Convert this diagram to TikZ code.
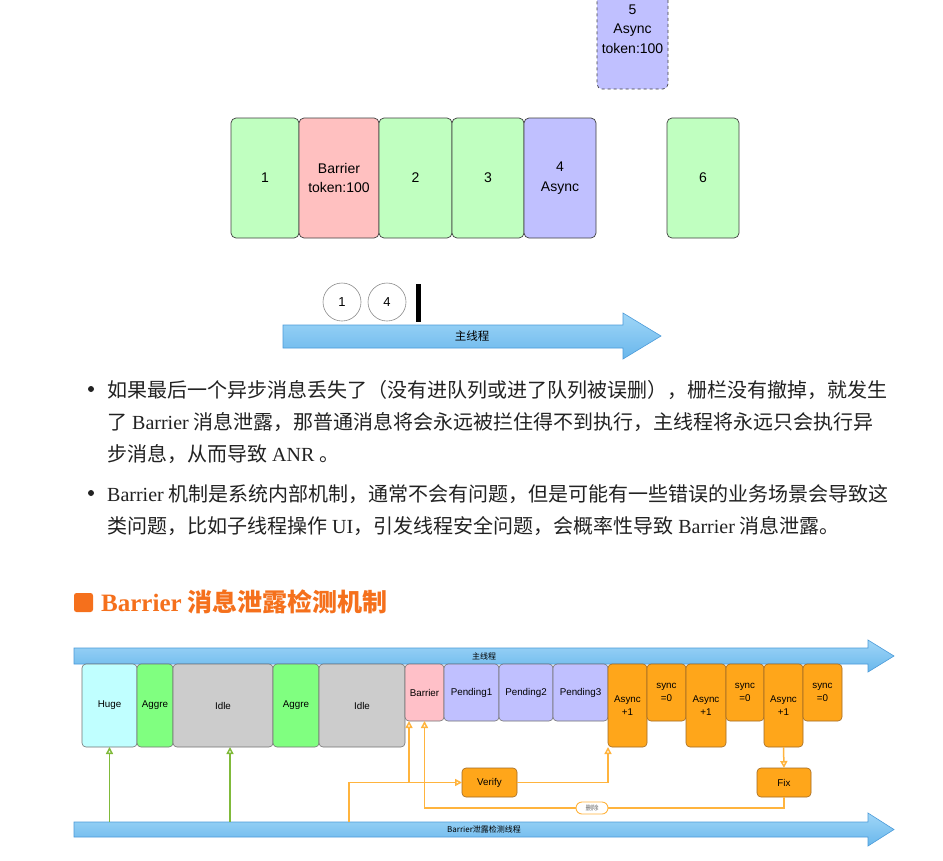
\documentclass[tikz,border=0pt]{standalone}
\usepackage{fontspec}
\setmainfont{Liberation Serif}
\newfontfamily\cjk{Noto Sans CJK SC}
\newfontfamily\dsf{Liberation Sans}
\usetikzlibrary{arrows.meta,positioning}

\definecolor{qgreen}{RGB}{192,255,192}
\definecolor{qpink}{RGB}{255,192,192}
\definecolor{qpinkb}{RGB}{255,192,200}
\definecolor{qblue}{RGB}{192,192,255}
\definecolor{qcyan}{RGB}{192,255,255}
\definecolor{qaggre}{RGB}{128,255,128}
\definecolor{qidle}{RGB}{204,204,204}
\definecolor{qorange}{RGB}{255,166,26}
\definecolor{qorangeedge}{RGB}{160,105,35}
\definecolor{lorange}{RGB}{255,180,62}
\definecolor{lgreen}{RGB}{128,186,58}
\definecolor{bartop}{RGB}{160,214,247}
\definecolor{barbot}{RGB}{105,183,236}
\definecolor{baredge}{RGB}{75,155,218}
\definecolor{headorange}{RGB}{245,112,28}
\definecolor{bodytext}{RGB}{34,34,34}

\newcommand{\zh}[1]{{\cjk #1}}

\begin{document}
\begin{tikzpicture}[x=1pt, y=-1pt,
  msg/.style={rectangle, draw=black!75, rounded corners=5pt, inner sep=0pt,
              outer sep=0pt, align=center, minimum height=120pt, line width=0.7pt,
              font=\dsf\fontsize{14}{19.5}\selectfont},
  done/.style={circle, draw=black!45, fill=white, minimum size=38pt, inner sep=0pt,
               line width=0.6pt, font=\dsf\fontsize{13}{14}\selectfont},
  thread/.style={draw=baredge, line width=0.6pt, top color=bartop, bottom color=barbot},
  barlbl/.style={inner sep=0pt, font=\cjk\fontsize{8}{9}\selectfont},
  para/.style={anchor=base west, inner sep=0pt, text=bodytext,
               font=\fontsize{20}{32}\selectfont},
  dot/.style={circle, fill=bodytext, minimum size=6pt, inner sep=0pt},
  q/.style={rectangle, draw=black!55, rounded corners=4pt, inner sep=0pt,
            outer sep=0pt, align=center, anchor=north west, line width=0.6pt,
            font=\dsf\fontsize{9.8}{13.5}\selectfont},
  tall/.style={q, minimum height=83pt},
  short/.style={q, minimum height=57pt},
  ob/.style={fill=qorange, draw=qorangeedge},
  act/.style={q, ob, anchor=center, minimum width=55pt, minimum height=29pt},
  del/.style={draw=lorange, fill=white, rounded corners=6pt, minimum width=32pt,
              minimum height=12pt, inner sep=0pt, line width=0.9pt, text=black!60,
              font=\cjk\fontsize{6.5}{7}\selectfont},
  ochk/.style={draw=lorange, line width=1.5pt, -{Triangle[open, length=7pt, width=7pt]}},
  oline/.style={draw=lorange, line width=1.5pt},
  gchk/.style={draw=lgreen, line width=1.5pt, -{Triangle[open, length=7pt, width=7pt]}}
]
  \useasboundingbox (0,0) rectangle (943,860);
  \fill[white] (0,0) rectangle (943,860);

  % message queue with the barrier
  \node[msg, fill=qgreen, minimum width=68pt] (m1) at (265,178) {1};
  \node[msg, fill=qpink, minimum width=80pt, right=0pt of m1] (mbar) {Barrier\\token:100};
  \node[msg, fill=qgreen, minimum width=73pt, right=0pt of mbar] (m2) {2};
  \node[msg, fill=qgreen, minimum width=72pt, right=0pt of m2] (m3) {3};
  \node[msg, fill=qblue, minimum width=72pt, right=0pt of m3] (m4) {4\\Async};
  \node[msg, fill=qgreen, minimum width=72pt, right=71pt of m4] (m6) {6};
  \node[msg, fill=qblue, dashed, minimum width=71pt] (m5) at (632.5,29) {5\\Async\\token:100};

  % main thread
  \draw[thread] (283,325) -- (623,325) -- (623,313) -- (661,336) -- (623,359)
    -- (623,348) -- (283,348) -- cycle;
  \node[font=\cjk\fontsize{11.5}{12}\selectfont] (mainlbl) at (472,336) {主线程};
  \node[done] (d1) at (342,302) {1};
  \node[done] (d4) at (387,302) {4};
  \node[fill=black, minimum width=5pt, minimum height=38pt, inner sep=0pt] (cursor) at (418.5,303) {};

  % bullets
  \node[dot] (b1) at (91,389) {};
  \node[para] (p1) at (107,397) {\zh{如果最后一个异步消息丢失了（没有进队列或进了队列被误删），栅栏没有撤掉，就发生}};
  \node[para] (p2) at (107,429) {\zh{了} Barrier \zh{消息泄露，那普通消息将会永远被拦住得不到执行，主线程将永远只会执行异}};
  \node[para] (p3) at (107,461) {\zh{步消息，从而导致} ANR \zh{。}};
  \node[dot] (b2) at (91,493) {};
  \node[para] (p4) at (107,501) {Barrier \zh{机制是系统内部机制，通常不会有问题，但是可能有一些错误的业务场景会导致这}};
  \node[para] (p5) at (107,533) {\zh{类问题，比如子线程操作} UI\zh{，引发线程安全问题，会概率性导致} Barrier \zh{消息泄露。}};

  % heading
  \node[fill=headorange, rounded corners=2.5pt, minimum size=19pt, inner sep=0pt] (hmark) at (83.5,602.5) {};
  \node[anchor=base west, inner sep=0pt, text=headorange,
        font=\bfseries\fontsize{25}{30}\selectfont] (htitle) at (101,611) {Barrier \zh{消息泄露检测机制}};

  % threads
  \draw[thread] (74,648) -- (868,648) -- (868,640) -- (894,656) -- (868,672)
    -- (868,664) -- (74,664) -- cycle;
  \node[barlbl] (mainbar) at (484,656) {主线程};
  \draw[thread] (74,822) -- (868,822) -- (868,813) -- (894,829.5) -- (868,846)
    -- (868,837) -- (74,837) -- cycle;
  \node[barlbl, minimum height=15pt] (detect) at (484,829.5) {Barrier泄露检测线程};

  % queue
  \node[tall, fill=qcyan, minimum width=55pt] (huge) at (82,664) {Huge};
  \node[tall, fill=qaggre, minimum width=36pt] (aggre1) at (huge.north east) {Aggre};
  \node[tall, fill=qidle, minimum width=100pt] (idle1) at (aggre1.north east) {Idle};
  \node[tall, fill=qaggre, minimum width=46pt] (aggre2) at (idle1.north east) {Aggre};
  \node[tall, fill=qidle, minimum width=86pt] (idle2) at (aggre2.north east) {Idle};
  \node[short, fill=qpinkb, minimum width=39pt] (barrier) at (idle2.north east) {Barrier};
  \node[short, fill=qblue, minimum width=55pt] (pend1) at (barrier.north east) {Pending1};
  \node[short, fill=qblue, minimum width=54pt] (pend2) at (pend1.north east) {Pending2};
  \node[short, fill=qblue, minimum width=55pt] (pend3) at (pend2.north east) {Pending3};
  \node[tall, ob, minimum width=39pt] (async1) at (pend3.north east) {Async\\+1};
  \node[short, ob, minimum width=39pt] (sync1) at (async1.north east) {sync\\=0};
  \node[tall, ob, minimum width=40pt] (async2) at (sync1.north east) {Async\\+1};
  \node[short, ob, minimum width=38pt] (sync2) at (async2.north east) {sync\\=0};
  \node[tall, ob, minimum width=39pt] (async3) at (sync2.north east) {Async\\+1};
  \node[short, ob, minimum width=39pt] (sync3) at (async3.north east) {sync\\=0};

  % checks
  \node[act] (verify) at (489.5,782.5) {Verify};
  \node[act, minimum width=54pt] (fix) at (784,782.5) {Fix};
  \node[del] (del) at (592,808) {删除};
  \coordinate (tap) at (349,822);

  \draw[gchk] (huge.south |- detect.north) -- (huge.south);
  \draw[gchk] ([xshift=7pt]idle1.south |- detect.north) -- ([xshift=7pt]idle1.south);
  \draw[ochk] (tap) |- (verify.west);
  \draw[ochk] ([xshift=4pt]barrier.south west |- verify.west) -- ([xshift=4pt]barrier.south west);
  \draw[ochk] (verify.east) -| (async1.south west);
  \draw[ochk] (async3.south) -- (fix.north);
  \draw[oline] (fix.south) |- (del.east);
  \draw[ochk] (del.west) -| (barrier.south);
\end{tikzpicture}
\end{document}
